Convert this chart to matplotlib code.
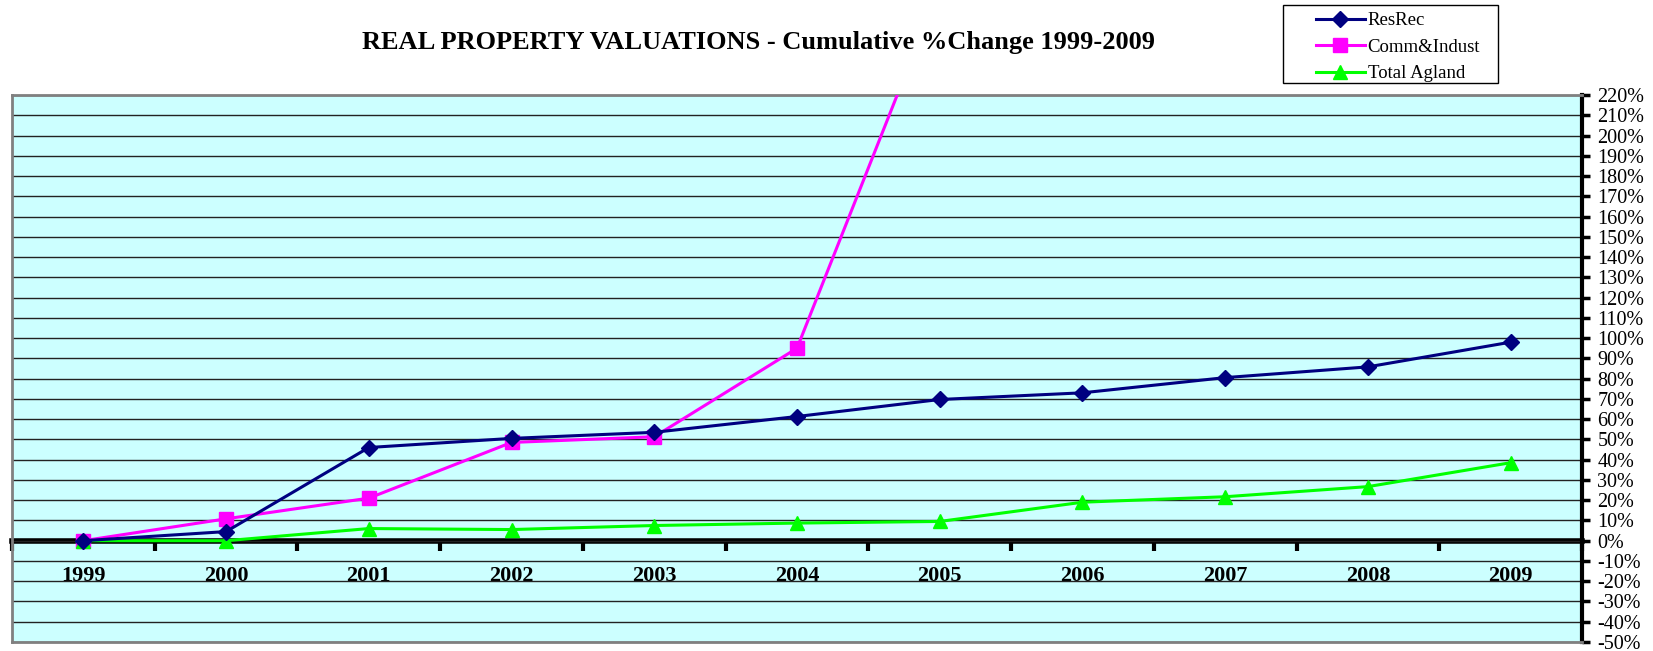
import matplotlib.pyplot as plt
from matplotlib.patches import Rectangle
from matplotlib.ticker import FixedLocator, FuncFormatter, NullFormatter

plt.rcParams["font.family"] = ["Liberation Serif", "DejaVu Serif"]

years = ["1999", "2000", "2001", "2002", "2003", "2004",
         "2005", "2006", "2007", "2008", "2009"]
resrec = [0, 4.5, 46, 50.5, 53.5, 61.3, 69.7, 73, 80.5, 85.8, 98]
comm_indust = [0, 10.8, 21, 48.5, 51.3, 95, 273, 290, 300, 310, 320]
total_agland = [0, 0, 6, 5.5, 7.5, 8.7, 9.5, 19, 21.7, 26.7, 38.5]

W, H = 1653, 651
fig = plt.figure(figsize=(W / 100, H / 100), dpi=100)
ax = fig.add_axes([12 / W, 1 - 642 / H, (1582 - 12) / W, (642 - 95) / H])
ax.set_facecolor("#CCFFFF")

x = list(range(len(years)))
ax.plot(x, resrec, color="#000080", lw=2.2, marker="D", ms=8.5,
        label="ResRec", zorder=4)
ax.plot(x, comm_indust, color="#FF00FF", lw=2.2, marker="s", ms=10,
        label="Comm&Indust", zorder=3)
ax.plot(x, total_agland, color="#00FF00", lw=2.2, marker="^", ms=10,
        label="Total Agland", zorder=3)

ax.set_xlim(-0.5, len(years) - 0.5)
ax.set_ylim(-50, 220)

# y axis on the right
ax.yaxis.tick_right()
ax.yaxis.set_major_locator(FixedLocator(range(-50, 221, 10)))
ax.yaxis.set_major_formatter(FuncFormatter(lambda v, p: f"{v:.0f}%"))
ax.tick_params(axis="y", direction="out", length=6, width=2.5, pad=5,
               labelsize=14.5, color="black")
ax.grid(axis="y", color="#222222", lw=1.0)
ax.set_axisbelow(True)

ax.set_xticks([])
for side in ["top", "left", "bottom"]:
    ax.spines[side].set_color("#808080")
    ax.spines[side].set_linewidth(2)
ax.spines["right"].set_color("black")
ax.spines["right"].set_linewidth(3)

# category axis on the zero line
sec = ax.secondary_xaxis(0, transform=ax.transData)
sec.spines["bottom"].set_linewidth(4)
sec.spines["bottom"].set_color("black")
sec.set_xticks([i + 0.5 for i in range(-1, len(years))])
sec.xaxis.set_major_formatter(NullFormatter())
sec.tick_params(axis="x", which="major", direction="out", length=7, width=3)
sec.set_xticks(x, minor=True)
sec.set_xticklabels(years, minor=True)
sec.tick_params(axis="x", which="minor", length=0, pad=18, labelsize=16)
for lbl in sec.get_xticklabels(minor=True):
    lbl.set_fontweight("bold")

fig.text(759 / W, 1 - 43 / H,
         "REAL PROPERTY VALUATIONS - Cumulative %Change 1999-2009",
         ha="center", va="center", fontsize=19, fontweight="bold")

# legend box
fig.patches.append(Rectangle((1283 / W, 1 - 83 / H), (1498 - 1283) / W,
                             78 / H, transform=fig.transFigure,
                             facecolor="white", edgecolor="black", lw=1,
                             zorder=5))
leg = fig.legend(loc="upper left", bbox_to_anchor=(1316 / W, 1 - 12 / H),
                 fontsize=13.5, frameon=False, handlelength=2.6,
                 borderpad=0, labelspacing=0.5, handletextpad=0.15,
                 borderaxespad=0)
leg.set_zorder(6)

fig.savefig("out.png", dpi=100)
